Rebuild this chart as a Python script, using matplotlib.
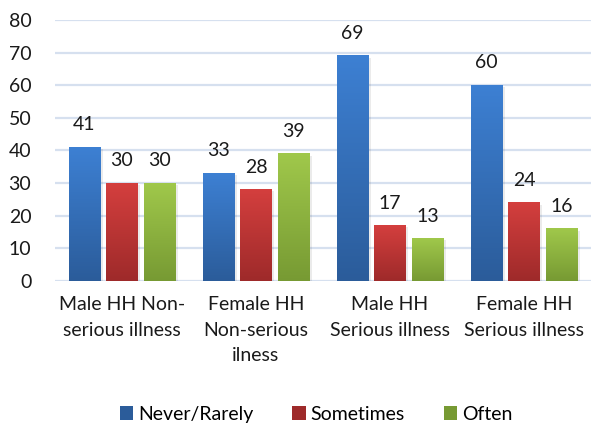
import numpy as np
import matplotlib as mpl
mpl.use('Agg')
import matplotlib.pyplot as plt
from matplotlib.colors import LinearSegmentedColormap
from matplotlib.patches import Patch

plt.rcParams['font.family'] = ['Lato', 'DejaVu Sans']
plt.rcParams['font.size'] = 14

categories = ['Male HH Non-\nserious illness', 'Female HH\nNon-serious\nilness',
              'Male HH\nSerious illness', 'Female HH\nSerious illness']
series = ['Never/Rarely', 'Sometimes', 'Often']
never_rarely = [41, 33, 69, 60]
sometimes = [30, 28, 17, 24]
often = [30, 39, 13, 16]

# (top, bottom) colours of the gradient fill
fills = [('#3d80d3', '#2b5c9a'), ('#d43f3e', '#9e2a2a'), ('#a0c84b', '#779a33')]

fig = plt.figure(figsize=(5.91, 4.23), dpi=100)
ax = fig.add_axes([0.093, 0.336, 0.907, 0.617])

x = np.arange(len(categories))
width = 0.235
step = 0.28
grad = np.linspace(1, 0, 256).reshape(-1, 1)

for i, (vals, (top, bot)) in enumerate(zip([never_rarely, sometimes, often], fills)):
    cmap = LinearSegmentedColormap.from_list('g%d' % i, [bot, top])
    for xi, v in zip(x, vals):
        left = xi + (i - 1) * step - width / 2
        # soft shadow on the right side
        ax.bar(left + width / 2 + 0.02, v, width, bottom=-0.6, color='#000000',
               alpha=0.08, zorder=2, linewidth=0)
        ax.imshow(grad, extent=[left, left + width, 0, v], cmap=cmap, aspect='auto',
                  zorder=3, interpolation='bicubic')
        ax.annotate(str(v), (left + width / 2, v), xytext=(0, 10), textcoords='offset points',
                    ha='center', va='bottom', fontsize=14, color='#1a1a1a')

ax.set_xlim(-0.5, len(categories) - 0.5)
ax.set_ylim(0, 80)
ax.set_yticks(range(0, 81, 10))
ax.set_xticks(x)
ax.set_xticklabels(categories, linespacing=1.6)
ax.tick_params(axis='both', length=0, colors='#1a1a1a')
ax.tick_params(axis='y', pad=17)
ax.tick_params(axis='x', pad=11)
ax.yaxis.grid(True, color='#d6e0ef', linewidth=1.6, zorder=0)
ax.set_axisbelow(True)
for s in ax.spines.values():
    s.set_visible(False)

handles = [Patch(facecolor=c[1], label=n) for n, c in zip(series, fills)]
fig.legend(handles=handles, loc='center', bbox_to_anchor=(0.535, 0.02), ncol=3,
           frameon=False, handlelength=0.7, handleheight=0.7, handletextpad=0.25,
           columnspacing=2.0, fontsize=14)

plt.savefig('out.png', dpi=100)
plt.close()
